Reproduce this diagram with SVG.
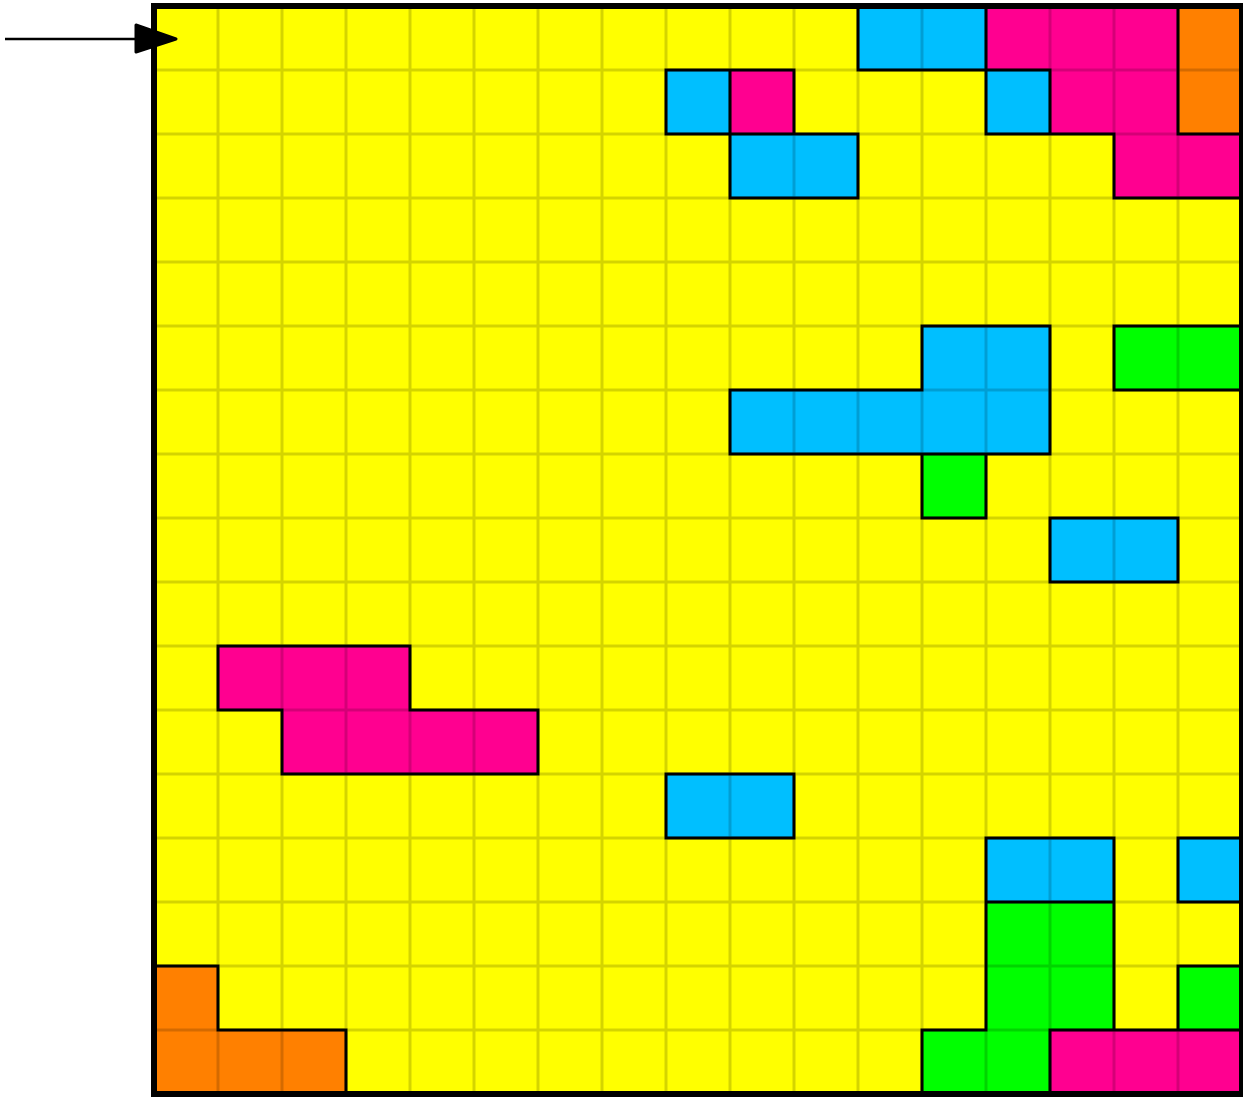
<svg xmlns="http://www.w3.org/2000/svg" width="1243" height="1097" viewBox="0 0 1243 1097">
<style>
.Y{fill:#ffff00}.B{fill:#00bfff}.M{fill:#ff0090}.O{fill:#ff8000}.G{fill:#00ff00}
.grid{stroke:#000;stroke-opacity:0.17;stroke-width:3;fill:none}
.edge{stroke:#000;stroke-width:3;fill:none;stroke-linecap:square}
.border{stroke:#000;stroke-width:6;fill:none}
</style>
<rect x="0" y="0" width="1243" height="1097" fill="#ffffff"/>
<g id="board">
<rect class="Y" x="154" y="6" width="1088" height="1088"/>
<g id="cells">
<rect class="B" x="858" y="6" width="128" height="64"/>
<rect class="M" x="986" y="6" width="192" height="64"/>
<rect class="O" x="1178" y="6" width="64" height="64"/>
<rect class="B" x="666" y="70" width="64" height="64"/>
<rect class="M" x="730" y="70" width="64" height="64"/>
<rect class="B" x="986" y="70" width="64" height="64"/>
<rect class="M" x="1050" y="70" width="128" height="64"/>
<rect class="O" x="1178" y="70" width="64" height="64"/>
<rect class="B" x="730" y="134" width="128" height="64"/>
<rect class="M" x="1114" y="134" width="128" height="64"/>
<rect class="B" x="922" y="326" width="128" height="64"/>
<rect class="G" x="1114" y="326" width="128" height="64"/>
<rect class="B" x="730" y="390" width="320" height="64"/>
<rect class="G" x="922" y="454" width="64" height="64"/>
<rect class="B" x="1050" y="518" width="128" height="64"/>
<rect class="M" x="218" y="646" width="192" height="64"/>
<rect class="M" x="282" y="710" width="256" height="64"/>
<rect class="B" x="666" y="774" width="128" height="64"/>
<rect class="B" x="986" y="838" width="128" height="64"/>
<rect class="B" x="1178" y="838" width="64" height="64"/>
<rect class="G" x="986" y="902" width="128" height="64"/>
<rect class="O" x="154" y="966" width="64" height="64"/>
<rect class="G" x="986" y="966" width="128" height="64"/>
<rect class="G" x="1178" y="966" width="64" height="64"/>
<rect class="O" x="154" y="1030" width="192" height="64"/>
<rect class="G" x="922" y="1030" width="128" height="64"/>
<rect class="M" x="1050" y="1030" width="192" height="64"/>
</g>
<path id="gridlines" class="grid" d="M218 6V1094M282 6V1094M346 6V1094M410 6V1094M474 6V1094M538 6V1094M602 6V1094M666 6V1094M730 6V1094M794 6V1094M858 6V1094M922 6V1094M986 6V1094M1050 6V1094M1114 6V1094M1178 6V1094M154 70H1242M154 134H1242M154 198H1242M154 262H1242M154 326H1242M154 390H1242M154 454H1242M154 518H1242M154 582H1242M154 646H1242M154 710H1242M154 774H1242M154 838H1242M154 902H1242M154 966H1242M154 1030H1242"/>
<path id="outlines" class="edge" d="M666 70H794M858 70H1050M666 134H858M986 134H1114M1178 134H1242M730 198H858M1114 198H1242M922 326H1050M1114 326H1242M730 390H922M1114 390H1242M730 454H1050M922 518H986M1050 518H1178M1050 582H1178M218 646H410M218 710H282M410 710H538M282 774H538M666 774H794M666 838H794M986 838H1114M1178 838H1242M986 902H1114M1178 902H1242M154 966H218M1178 966H1242M218 1030H346M922 1030H986M1050 1030H1242M858 6V70M858 134V198M986 6V134M986 454V518M986 838V1030M1178 6V134M1178 518V582M1178 838V902M1178 966V1030M666 70V134M666 774V838M730 70V198M730 390V454M794 70V134M794 774V838M1050 70V134M1050 326V454M1050 518V582M1050 1030V1094M1114 134V198M1114 326V390M1114 838V1030M922 326V390M922 454V518M922 1030V1094M218 646V710M218 966V1030M410 646V710M282 710V774M538 710V774M346 1030V1094"/>
<rect id="frame" class="border" x="154" y="6" width="1088" height="1088"/>
</g>
<g id="connectors">
<line x1="5" y1="39" x2="140" y2="39" stroke="#000" stroke-width="2.5"/>
<polygon points="136,25 176,39 136,52" fill="#000" stroke="#000" stroke-width="3" stroke-linejoin="round"/>
</g>
</svg>
